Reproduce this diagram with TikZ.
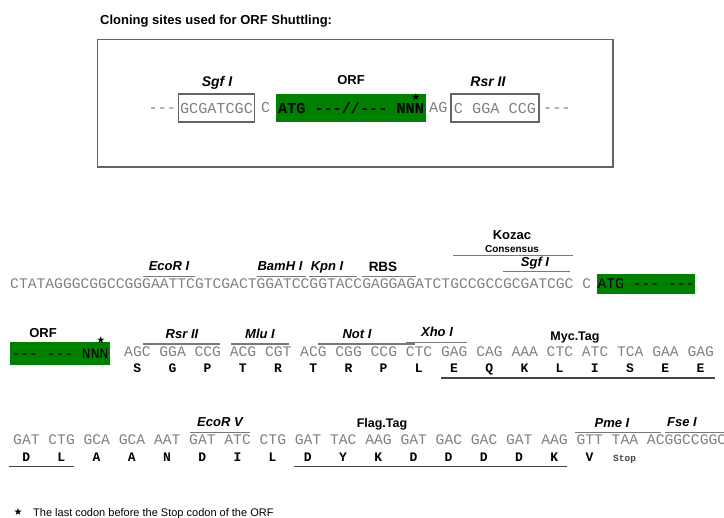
\documentclass[tikz,border=0pt]{standalone}
\usepackage{fontspec}
\setmainfont{Liberation Sans}
\newfontfamily\seqfont{Liberation Mono}
\newfontfamily\symfont{DejaVu Sans}
\definecolor{orfgreen}{RGB}{0,128,0}
\definecolor{seqgray}{RGB}{128,128,128}
\definecolor{linegray}{RGB}{120,120,120}
\definecolor{taggray}{RGB}{70,70,70}
\definecolor{boxgray}{RGB}{100,100,100}
\tikzset{
  seq/.style={font=\seqfont\fontsize{14.67pt}{16pt}\selectfont, text=seqgray, inner sep=0pt, anchor=base west},
  seqk/.style={font=\seqfont\fontsize{14.67pt}{16pt}\selectfont, text=black, inner sep=0pt},
  topseq/.style={seq, font=\seqfont\fontsize{15.2pt}{17pt}\selectfont},
  aa/.style={font=\seqfont\bfseries\fontsize{13pt}{15pt}\selectfont, text=black, inner sep=0pt, anchor=base},
  enz/.style={font=\bfseries\itshape\fontsize{13pt}{15pt}\selectfont, inner sep=0pt, anchor=base},
  lab/.style={font=\bfseries\fontsize{12.5pt}{14pt}\selectfont, inner sep=0pt, anchor=base},
  sitebox/.style={seqk, font=\seqfont\fontsize{15.2pt}{17pt}\selectfont, text=seqgray, draw=boxgray, line width=1.2pt, minimum height=28pt, inner xsep=1.5pt, anchor=center},
  orfbox/.style={seqk, fill=orfgreen, anchor=center},
  starmark/.style={font=\symfont\fontsize{9.5pt}{10pt}\selectfont, inner sep=0pt, anchor=center},
  siteline/.style={draw=linegray, line width=1.3pt},
  tagline/.style={draw=taggray, line width=1.6pt},
}
\begin{document}
\begin{tikzpicture}[x=1pt,y=-1pt]
\useasboundingbox (0,0) rectangle (724,518);

% ---------- title and top box ----------
\node[font=\bfseries\fontsize{13pt}{15pt}\selectfont, inner sep=0pt, anchor=base west] (title) at (100,24.5) {Cloning sites used for ORF Shuttling:};
\draw[boxgray, line width=1.2pt] (97.5,39.5) rectangle (613,167);

\node[topseq] (d1) at (148.5,112.5) {---};
\node[sitebox, minimum width=75pt] (sgfbox) at (216.5,108) {GCGATCGC};
\node[topseq] (c0) at (261,112.5) {C};
\node[orfbox, font=\seqfont\bfseries\fontsize{15.2pt}{17pt}\selectfont, minimum width=150pt, minimum height=28pt] (orf0) at (351,108) {ATG ---//--- NNN};
\node[starmark] (st0) at (416,97) {★};
\node[topseq] (ag0) at (429,112.5) {AG};
\node[sitebox, minimum width=88pt] (rsrbox) at (495,108) {C GGA CCG};
\node[topseq] (d2) at (543,112.5) {---};
\node[enz, font=\bfseries\itshape\fontsize{14pt}{16pt}\selectfont] (lsgf0) at (217,86.5) {Sgf I};
\node[lab, font=\bfseries\fontsize{13pt}{15pt}\selectfont] (lorf0) at (351,84.5) {ORF};
\node[enz, font=\bfseries\itshape\fontsize{14pt}{16pt}\selectfont] (lrsr0) at (488,86.5) {Rsr II};

% ---------- row 1 ----------
\node[seq] (row1) at (10,289) {CTATAGGGCGGCCGGGAATTCGTCGACTGGATCCGGTACCGAGGAGATCTGCCGCCGCGATCGC C};
\node[orfbox, minimum width=98pt, minimum height=20pt] (orf1) at (646,284) {ATG --- ---};

\node[enz] (lecori) at (169,271) {EcoR I};
\node[enz] (lbamh) at (280,271) {BamH I};
\node[enz] (lkpn) at (327,271) {Kpn I};
\node[lab, font=\bfseries\fontsize{13.5pt}{15pt}\selectfont] (lrbs) at (383,271.5) {RBS};
\node[lab, font=\bfseries\fontsize{13pt}{15pt}\selectfont] (lkoz) at (512,240) {Kozac};
\node[lab, font=\bfseries\fontsize{10pt}{11pt}\selectfont] (lcons) at (512,252.5) {Consensus};
\node[enz] (lsgf1) at (535,266.5) {Sgf I};

\draw[siteline] (143,276.7) -- (195,276.7);
\draw[siteline] (257,276.7) -- (306,276.7);
\draw[siteline] (309,276.7) -- (357,276.7);
\draw[siteline] (362,276.7) -- (416,276.7);
\draw[siteline] (503,271.7) -- (570,271.7);
\draw[siteline] (453,255.7) -- (573,255.7);

% ---------- row 2 ----------
\node[orfbox, minimum width=100pt, minimum height=23pt] (orf2) at (60,353.5) {--- --- NNN};
\node[lab, font=\bfseries\fontsize{13pt}{15pt}\selectfont] (lorf2) at (43,338) {ORF};
\node[starmark] (st2) at (101,340) {★};
\node[seq] (row2) at (124,357) {AGC GGA CCG ACG CGT ACG CGG CCG CTC GAG CAG AAA CTC ATC TCA GAA GAG};
\foreach \a [count=\k from 0] in {S,G,P,T,R,T,R,P,L,E,Q,K,L,I,S,E,E}
  \node[aa] (aa2-\k) at ({137.2+35.2*\k},373) {\a};

\node[enz] (lrsr2) at (182,339) {Rsr II};
\node[enz] (lmlu) at (260,339) {Mlu I};
\node[enz] (lnot) at (357,338.5) {Not I};
\node[enz] (lxho) at (437,337) {Xho I};
\node[lab] (lmyc) at (575,341) {Myc.Tag};

\draw[siteline] (143,344) -- (220,344);
\draw[siteline] (231,344) -- (289,344);
\draw[siteline] (318,344) -- (415,344);
\draw[siteline] (406,342.7) -- (467,342.7);
\draw[tagline] (441,378) -- (715,378);

% ---------- row 3 ----------
\node[seq] (row3) at (13,445) {GAT CTG GCA GCA AAT GAT ATC CTG GAT TAC AAG GAT GAC GAC GAT AAG GTT TAA ACGGCCGGC};
\foreach \a [count=\k from 0] in {D,L,A,A,N,D,I,L,D,Y,K,D,D,D,D,K,V}
  \node[aa] (aa3-\k) at ({26.2+35.2*\k},462) {\a};
\node[aa, font=\seqfont\bfseries\fontsize{9.5pt}{11pt}\selectfont, text=taggray] (stop) at ({26.2+35.2*17},462) {Stop};

\node[enz] (lecorv) at (220,427) {EcoR V};
\node[lab] (lflag) at (382,427.3) {Flag.Tag};
\node[enz] (lpme) at (612,427.5) {Pme I};
\node[enz] (lfse) at (682,427) {Fse I};

\draw[siteline] (190,432.3) -- (250,432.3);
\draw[siteline] (575,432.3) -- (661,432.3);
\draw[siteline] (665,432.3) -- (724,432.3);
\draw[tagline] (9,466.5) -- (74,466.5);
\draw[tagline] (294,466.5) -- (567,466.5);

% ---------- footnote ----------
\node[starmark, font=\symfont\fontsize{10pt}{11pt}\selectfont] (st3) at (18,512) {★};
\node[font=\fontsize{11pt}{13pt}\selectfont, inner sep=0pt, anchor=base west] (foot) at (33,517) {The last codon before the Stop codon of the ORF};
\end{tikzpicture}
\end{document}
